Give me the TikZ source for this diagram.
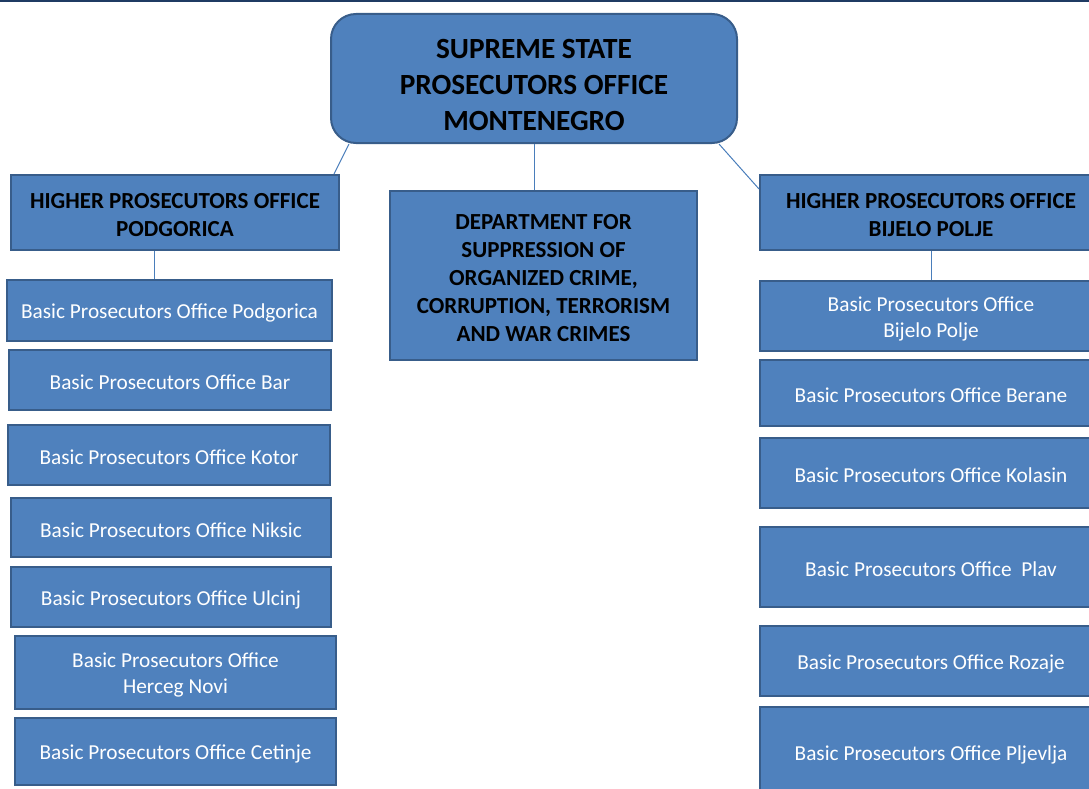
\documentclass[tikz,border=0pt]{standalone}
\usepackage{fontspec}
\setmainfont{Carlito}
\usetikzlibrary{calc}
\definecolor{boxfill}{HTML}{4F81BD}
\definecolor{boxline}{HTML}{385D8A}
\definecolor{topline}{HTML}{1F3B63}
\definecolor{connc}{HTML}{4A7EBB}
\tikzset{
  orgbox/.style={draw=boxline, fill=boxfill, line width=2pt, inner sep=0pt},
  btext/.style={text=white, align=center, yshift=-2.5pt, font=\fontsize{21.3}{26}\selectfont},
  htext/.style={text=black, align=center, yshift=-2.5pt, font=\fontsize{23}{28}\selectfont\bfseries},
  ttext/.style={text=black, align=center, yshift=-6.5pt, font=\fontsize{29.3}{36}\selectfont\bfseries},
  conn/.style={draw=connc, line width=1pt}
}
\begin{document}
\begin{tikzpicture}[x=1pt,y=-1pt]
\useasboundingbox (0,0) rectangle (1089,789);
\clip (0,0) rectangle (1089,789);
\fill[topline] (0,0) rectangle (1089,2.5);
% top
\node[orgbox, rounded corners=25pt, minimum width=406pt, minimum height=129pt,
  label={[ttext]center:SUPREME STATE\\PROSECUTORS OFFICE\\MONTENEGRO}] (top) at (534,78.5) {};
% higher offices
\node[orgbox, minimum width=328pt, minimum height=75pt,
  label={[htext]center:HIGHER PROSECUTORS OFFICE\\PODGORICA}] (hl) at (175,212.5) {};
\node[orgbox, minimum width=342pt, minimum height=75pt,
  label={[htext]center:HIGHER PROSECUTORS OFFICE\\BIJELO POLJE}] (hr) at (931,212.5) {};
\node[orgbox, minimum width=307pt, minimum height=169pt,
  label={[htext]center:DEPARTMENT FOR\\SUPPRESSION OF\\ORGANIZED CRIME,\\CORRUPTION, TERRORISM\\AND WAR CRIMES}] (mid) at (543.5,275.5) {};
% left column
\node[orgbox, minimum width=325pt, minimum height=61pt, label={[btext]center:Basic Prosecutors Office Podgorica}] (lb1) at (169.5,310.5) {};
\node[orgbox, minimum width=322pt, minimum height=60pt, label={[btext]center:Basic Prosecutors Office Bar}] (lb2) at (170,380) {};
\node[orgbox, minimum width=322pt, minimum height=60pt, label={[btext]center:Basic Prosecutors Office Kotor}] (lb3) at (169,455) {};
\node[orgbox, minimum width=320pt, minimum height=59pt, label={[btext]center:Basic Prosecutors Office Niksic}] (lb4) at (171,527.5) {};
\node[orgbox, minimum width=320pt, minimum height=60pt, label={[btext]center:Basic Prosecutors Office Ulcinj}] (lb5) at (171,597) {};
\node[orgbox, minimum width=321pt, minimum height=73pt, label={[btext]center:Basic Prosecutors Office\\Herceg Novi}] (lb6) at (175.5,672.5) {};
\node[orgbox, minimum width=321pt, minimum height=67pt, label={[btext]center:Basic Prosecutors Office Cetinje}] (lb7) at (175.5,751.5) {};
% right column
\node[orgbox, minimum width=342pt, minimum height=70pt, label={[btext]center:Basic Prosecutors Office\\Bijelo Polje}] (rb1) at (931,316) {};
\node[orgbox, minimum width=342pt, minimum height=66pt, label={[btext]center:Basic Prosecutors Office Berane}] (rb2) at (931,393) {};
\node[orgbox, minimum width=342pt, minimum height=70pt, label={[btext]center:Basic Prosecutors Office Kolasin}] (rb3) at (931,473) {};
\node[orgbox, minimum width=342pt, minimum height=80pt, label={[btext]center:Basic Prosecutors Office\ \ Plav}] (rb4) at (931,567) {};
\node[orgbox, minimum width=342pt, minimum height=70pt, label={[btext]center:Basic Prosecutors Office Rozaje}] (rb5) at (931,661) {};
\node[orgbox, minimum width=342pt, minimum height=90pt, label={[btext]center:Basic Prosecutors Office Pljevlja}] (rb6) at (931,752) {};
% connectors
\draw[conn] ([xshift=19pt]top.south west) -- ([xshift=-6pt]hl.north east);
\draw[conn] (top.south) -- (top.south |- mid.north);
\draw[conn] ([xshift=-19pt]top.south east) -- ([yshift=-15pt]hr.north west);
\draw[conn] ([xshift=-21pt]hl.south) -- ([xshift=-21pt]hl.south |- lb1.north);
\draw[conn] (hr.south) -- (hr.south |- rb1.north);
\end{tikzpicture}
\end{document}
